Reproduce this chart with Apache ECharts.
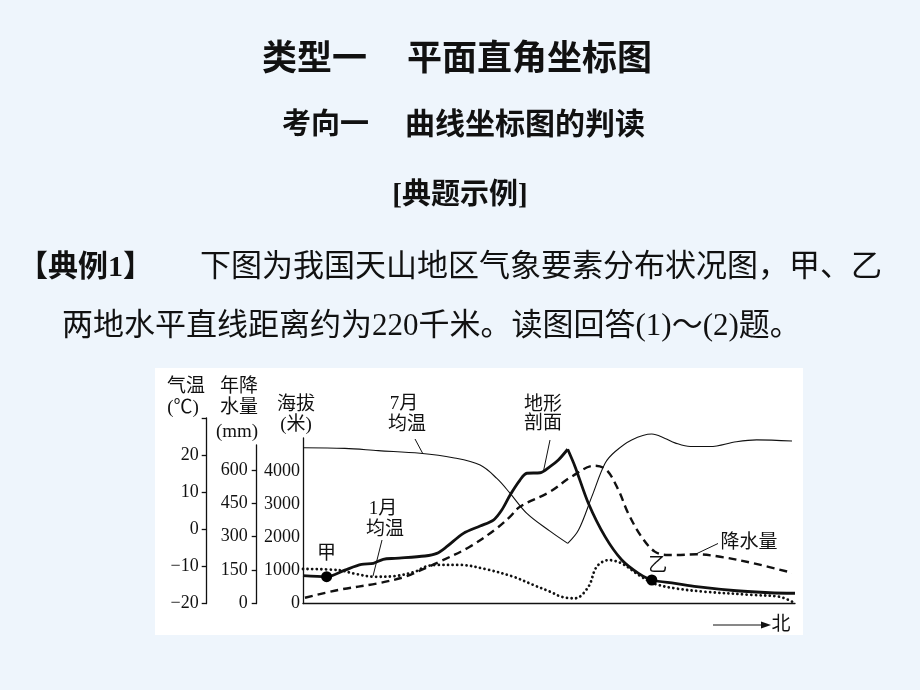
<!DOCTYPE html>
<html><head><meta charset="utf-8">
<script src="https://cdn.jsdelivr.net/npm/echarts@6/dist/echarts.min.js"></script>
<style>html,body{margin:0;padding:0;background:#eef5fc;}#c{width:920px;height:690px;}</style>
</head><body><div id="c"></div>
<script>
// ---- data ----
const terrainX   = [0, 4.8, 8.5, 11.9, 14.3, 16.3, 18.7, 24.8, 27.2, 29.2, 32.6, 36.0, 38.7, 40.4, 42.1, 44.1, 45.5, 48.2, 50.2, 51.9, 53.8, 55.3, 58.0, 61.4, 64.8, 68.2, 70.9, 75.6, 80.0, 88.1, 94.9, 100];
const terrainAlt = [840, 810, 1010, 1180, 1215, 1335, 1365, 1435, 1515, 1715, 2120, 2340, 2520, 2825, 3280, 3730, 3935, 3950, 4135, 4335, 4660, 4135, 3030, 2020, 1315, 910, 710, 610, 510, 385, 325, 310];
const precipX  = [0.4, 7.2, 15.3, 20.7, 24.8, 27.8, 33.9, 39.4, 42.1, 44.1, 50.2, 54.6, 59.3, 61.7, 64.1, 66.1, 68.8, 71.5, 74.2, 76.0, 80.0, 84.8, 91.5, 99.4];
const precipMM = [26, 61, 91, 120, 158, 188, 255, 338, 390, 435, 502, 570, 619, 600, 510, 405, 300, 233, 218, 218, 221, 210, 181, 138];
const julyX    = [0, 8.5, 15.3, 23.8, 30.5, 36.0, 39.4, 42.1, 45.5, 50.2, 53.8, 56.0, 58.7, 61.4, 63.4, 66.8, 70.9, 73.6, 75.6, 78.7, 82.7, 88.1, 92.2, 99.4];
const julyTemp = [22.0, 21.8, 21.2, 20.5, 19.3, 17.3, 13.7, 9.7, 4.3, -0.5, -3.8, -0.2, 8.8, 17.8, 20.9, 24.1, 25.7, 24.5, 23.3, 22.3, 22.3, 23.6, 24.1, 23.8];
const janX     = [0, 7.2, 10.6, 14.6, 18.7, 22.8, 24.8, 27.2, 31.9, 37.3, 42.8, 46.8, 50.2, 52.6, 55.3, 58.0, 59.7, 62.1, 64.8, 68.2, 71.5, 75.6, 81.4, 91.5, 96.9, 99.4];
const janTemp  = [-10.7, -11.0, -12.0, -12.8, -12.6, -11.4, -10.1, -9.6, -9.6, -10.8, -12.8, -15.0, -16.8, -18.2, -18.6, -15.5, -10.1, -8.3, -9.2, -12.3, -14.7, -15.9, -16.8, -17.7, -18.2, -19.5];
const markerName = ['甲', '乙'];
const markerX    = [4.8, 70.9];
const markerAlt  = [810, 710];
const tempTicks   = [-20, -10, 0, 10, 20];
const precipTicks = [0, 150, 300, 450, 600];
const altTicks    = [0, 1000, 2000, 3000, 4000];

// ---- helpers ----
const zip = (xs, ys) => xs.map((x, i) => [x, ys[i]]);
function peakIndex(ys, findMin) {
  let k = 0;
  ys.forEach((v, i) => { if (findMin ? v < ys[k] : v > ys[k]) k = i; });
  return k;
}
const INK = '#111';
const numFont = '"Liberation Serif", "Noto Sans CJK SC", serif';
const minus = v => String(v).replace('-', '\u2212');
const plain = v => String(v);

const tPeak = peakIndex(terrainAlt, false);
const terrainAll = zip(terrainX, terrainAlt);
const julyAll = zip(julyX, julyTemp);
const jTrough = peakIndex(julyTemp, true);

const lineBase = (name, xi, yi, data, ls, smooth) => ({
  name, type: 'line', xAxisIndex: xi, yAxisIndex: yi, data, showSymbol: false, symbol: 'none',
  smooth: smooth, lineStyle: Object.assign({ color: INK }, ls), silent: true, z: 3
});

const chart = echarts.init(document.getElementById('c'));
const gridCommon = () => ({ left: 303, right: 125, outerBoundsMode: 'none', containLabel: false });
const axisLine = () => ({ show: true, onZero: false, lineStyle: { color: INK, width: 1.3 } });

const txt = (text, x, y, font, align) => ({
  type: 'text', x, y, z: 20,
  style: { text, font, fill: INK, textAlign: align || 'center', textVerticalAlign: 'middle' }
});
const seg = (x1, y1, x2, y2, w) => ({
  type: 'line', z: 20, shape: { x1, y1, x2, y2 }, style: { stroke: INK, lineWidth: w || 1 }
});
const lblFont = '19px ' + numFont;

chart.setOption({
  animation: false,
  backgroundColor: '#eef5fc',
  grid: [
    Object.assign({ top: 438, height: 165.5 }, gridCommon()),
    Object.assign({ top: 445, height: 158.5 }, gridCommon()),
    Object.assign({ top: 418, height: 185.5 }, gridCommon())
  ],
  xAxis: [
    { type: 'value', gridIndex: 0, min: 0, max: 100, axisLine: axisLine(), axisTick: { show: false }, axisLabel: { show: false }, splitLine: { show: false } },
    { type: 'value', gridIndex: 1, min: 0, max: 100, show: false },
    { type: 'value', gridIndex: 2, min: 0, max: 100, show: false }
  ],
  yAxis: [
    { type: 'value', gridIndex: 0, min: 0, max: 5000, interval: 1000, axisLine: axisLine(),
      axisTick: { show: false }, splitLine: { show: false },
      axisLabel: { customValues: altTicks, margin: 3, fontSize: 18, fontFamily: numFont, color: INK, formatter: plain } },
    { type: 'value', gridIndex: 1, min: 0, max: 712, offset: 46.3, axisLine: axisLine(), splitLine: { show: false },
      axisTick: { show: true, customValues: precipTicks, length: 5, lineStyle: { color: INK, width: 1.3 } },
      axisLabel: { customValues: precipTicks, margin: 9, fontSize: 18, fontFamily: numFont, color: INK, formatter: plain } },
    { type: 'value', gridIndex: 2, min: -20, max: 30, offset: 96.3, axisLine: axisLine(), splitLine: { show: false },
      axisTick: { show: true, customValues: tempTicks.concat([30]), length: 5, lineStyle: { color: INK, width: 1.3 } },
      axisLabel: { customValues: tempTicks, margin: 8, fontSize: 18, fontFamily: numFont, color: INK, formatter: minus } }
  ],
  series: [
    lineBase('地形剖面a', 0, 0, terrainAll.slice(0, tPeak + 1), { width: 2.8 }, 0.3),
    lineBase('地形剖面b', 0, 0, terrainAll.slice(tPeak), { width: 2.8 }, 0.3),
    lineBase('降水量', 1, 1, zip(precipX, precipMM), { width: 2.4, type: [8, 5] }, 0.35),
    lineBase('7月均温a', 2, 2, julyAll.slice(0, jTrough + 1), { width: 1.1 }, 0.35),
    lineBase('7月均温b', 2, 2, julyAll.slice(jTrough), { width: 1.1 }, 0.35),
    lineBase('1月均温', 2, 2, zip(janX, janTemp), { width: 2.8, type: [0.01, 4.6], cap: 'round' }, 0.35),
    { type: 'scatter', xAxisIndex: 0, yAxisIndex: 0, symbolSize: 11, itemStyle: { color: '#000', opacity: 1 }, z: 5, silent: true,
      data: markerName.map((n, i) => ({
        name: n, value: [markerX[i], markerAlt[i]],
        label: { show: true, formatter: '{b}', position: 'top', distance: 4,
                 offset: i === 0 ? [0, -4] : [6, 5], fontSize: 19, fontFamily: numFont, color: '#111',
                 textBorderWidth: 0, opacity: 1 }
      })) }
  ],
  graphic: [
    { type: 'rect', z: -10, shape: { x: 155, y: 368, width: 648, height: 267 }, style: { fill: '#ffffff' } },
    // slide headings
    txt('类型一', 262, 57, '700 35px "Noto Sans CJK SC"', 'left'),
    txt('平面直角坐标图', 407, 57, '700 35px "Noto Sans CJK SC"', 'left'),
    txt('考向一', 282, 123, '700 29px "Noto Sans CJK SC"', 'left'),
    txt('曲线坐标图的判读', 405, 123, '700 30px "Noto Sans CJK SC"', 'left'),
    txt('[典题示例]', 460, 197, '700 29px ' + numFont, 'center'),
    txt('【典例1】', 18, 268, '700 30px ' + numFont, 'left'),
    txt('下图为我国天山地区气象要素分布状况图，甲、乙', 200, 268, '31px ' + numFont, 'left'),
    txt('两地水平直线距离约为220千米。读图回答(1)～(2)题。', 62, 327, '31px ' + numFont, 'left'),
    // chart annotations
    txt('气温', 186, 387, lblFont), txt('(℃)', 183, 408, lblFont),
    txt('年降', 239, 387, lblFont), txt('水量', 239, 408, lblFont), txt('(mm)', 237, 432, lblFont),
    txt('海拔', 296, 405, lblFont), txt('(米)', 296, 425, lblFont),
    txt('7月', 404, 404, lblFont), txt('均温', 407, 425, lblFont),
    txt('地形', 543, 405, lblFont), txt('剖面', 543, 424, lblFont),
    txt('1月', 383, 509, lblFont), txt('均温', 385, 530, lblFont),
    txt('降水量', 749, 543, lblFont),
    txt('北', 781, 625, lblFont),
    seg(415, 439, 423, 454), seg(550, 440, 543.5, 471), seg(382, 540, 373, 576), seg(718, 543.5, 697, 553.5),
    seg(713, 625, 764, 625),
    { type: 'polygon', z: 20, shape: { points: [[771, 625], [761, 621.5], [761, 628.5]] }, style: { fill: INK } }
  ]
});
</script></body></html>
